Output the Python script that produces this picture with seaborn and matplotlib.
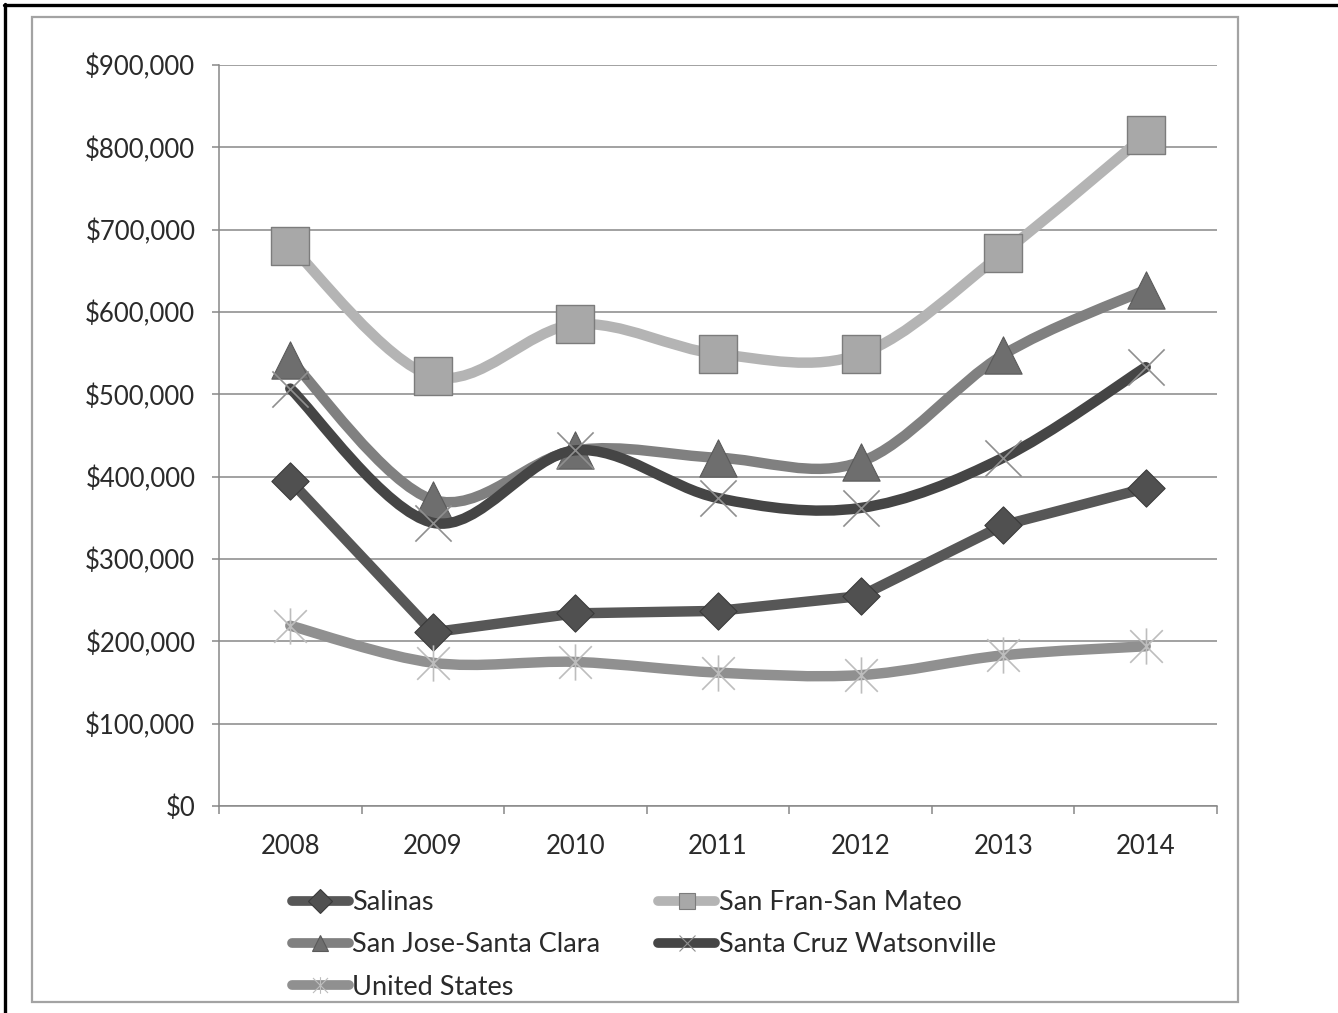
import numpy as np
import matplotlib
matplotlib.use("Agg")
import matplotlib.pyplot as plt
from matplotlib.path import Path
from matplotlib.patches import PathPatch, Rectangle
from matplotlib.lines import Line2D
from matplotlib.ticker import FuncFormatter, FixedLocator
import seaborn as sns
import pandas as pd

# Median home prices by area
years = ["2008", "2009", "2010", "2011", "2012", "2013", "2014"]
salinas = [395000, 211000, 234000, 237000, 255000, 341000, 386000]
san_fran = [680000, 522000, 585000, 549000, 549000, 672000, 815000]
san_jose = [542000, 372000, 432000, 423000, 418000, 548000, 627000]
santa_cruz = [507000, 344000, 432000, 374000, 362000, 423000, 533000]
united_states = [219000, 174000, 175000, 162000, 159000, 183000, 194000]

series_names = ["Salinas", "San Fran-San Mateo", "San Jose-Santa Clara",
                "Santa Cruz Watsonville", "United States"]
y_ticks = [0, 100000, 200000, 300000, 400000, 500000, 600000, 700000, 800000, 900000]

sns.set_theme(style="white")
plt.rcParams["font.family"] = ["Lato", "DejaVu Sans"]

W, H = 1338, 1013
fig = plt.figure(figsize=(W / 100, H / 100), dpi=100)
ax = fig.add_axes([219 / W, 1 - 806 / H, (1217 - 219) / W, (806 - 65) / H])

x = np.arange(len(years))
grid_col = "#888888"
text_col = "#2a2a2a"


def smooth_path(xs, ys):
    """Cubic Bezier path through the points (Catmull-Rom style smoothing)."""
    pts = np.column_stack([xs, ys]).astype(float)
    n = len(pts)
    verts = [pts[0]]
    codes = [Path.MOVETO]
    for i in range(n - 1):
        p0 = pts[i - 1] if i > 0 else pts[i]
        p1 = pts[i]
        p2 = pts[i + 1]
        p3 = pts[i + 2] if i + 2 < n else pts[i + 1]
        c1 = p1 + (p2 - p0) / 6.0
        c2 = p2 - (p3 - p1) / 6.0
        verts += [c1, c2, p2]
        codes += [Path.CURVE4] * 3
    return Path(verts, codes)


asterisk = Path([(0, -1), (0, 1), (-0.9, -0.9), (0.9, 0.9), (-0.9, 0.9), (0.9, -0.9)],
                [Path.MOVETO, Path.LINETO, Path.MOVETO, Path.LINETO, Path.MOVETO, Path.LINETO])

styles = {
    "Salinas": dict(values=salinas, line="#575757", smooth=False,
                    marker="D", size=360, face="#505050", edge="#3a3a3a", lw=0.8),
    "San Fran-San Mateo": dict(values=san_fran, line="#b4b4b4", smooth=True,
                               marker="s", size=780, face="#a8a8a8", edge="#7c7c7c", lw=1.0),
    "San Jose-Santa Clara": dict(values=san_jose, line="#808080", smooth=True,
                                 marker="^", size=720, face="#6e6e6e", edge="#5a5a5a", lw=0.8),
    "Santa Cruz Watsonville": dict(values=santa_cruz, line="#454545", smooth=True,
                                   marker="x", size=680, face="#8f8f8f", edge="#8f8f8f", lw=1.2),
    "United States": dict(values=united_states, line="#909090", smooth=True,
                          marker=asterisk, size=680, face="#bdbdbd", edge="#bdbdbd", lw=1.2),
}

df = pd.DataFrame({"x": np.tile(x, len(series_names)),
                   "value": salinas + san_fran + san_jose + santa_cruz + united_states,
                   "series": np.repeat(series_names, len(years))})

z = 3
for name in series_names:
    st = styles[name]
    sub = df[df["series"] == name]
    if st["smooth"]:
        patch = PathPatch(smooth_path(sub["x"], sub["value"]), facecolor="none",
                          edgecolor=st["line"], lw=7.5, capstyle="round",
                          joinstyle="round", zorder=z)
        ax.add_patch(patch)
    else:
        sns.lineplot(data=sub, x="x", y="value", color=st["line"], lw=7.5,
                     ax=ax, zorder=z, solid_capstyle="round", legend=False)
    if st["marker"] in ("x",) or st["marker"] is asterisk:
        ax.scatter(sub["x"], sub["value"], marker=st["marker"], s=st["size"],
                   color=st["face"], linewidths=st["lw"], zorder=z + 0.5)
    else:
        sns.scatterplot(data=sub, x="x", y="value", marker=st["marker"], s=st["size"],
                        color=st["face"], edgecolor=st["edge"], linewidth=st["lw"],
                        ax=ax, zorder=z + 0.5, legend=False)
    z += 1

ax.set_xlim(-0.5, len(years) - 0.5)
ax.set_ylim(0, 900000)
ax.set_xticks(x)
ax.set_xticklabels(years)
ax.xaxis.set_minor_locator(FixedLocator(np.arange(-0.5, len(years), 1.0)))
ax.set_yticks(y_ticks)
ax.yaxis.set_major_formatter(FuncFormatter(lambda v, p: f"${v:,.0f}"))
ax.set_xlabel("")
ax.set_ylabel("")
ax.grid(axis="y", color=grid_col, lw=1.1, zorder=0)
ax.set_axisbelow(True)
for s in ("top", "right"):
    ax.spines[s].set_visible(False)
for s in ("left", "bottom"):
    ax.spines[s].set_color(grid_col)
    ax.spines[s].set_linewidth(1.1)
ax.tick_params(axis="y", which="major", left=True, length=5, width=1.1, color=grid_col,
               labelsize=18.5, labelcolor=text_col, pad=12)
ax.tick_params(axis="x", which="major", bottom=False, length=0, labelsize=18.5,
               labelcolor=text_col, pad=20)
ax.tick_params(axis="x", which="minor", bottom=True, length=6, width=1.1, color=grid_col)

# Legend
handles = []
for name in series_names:
    st = styles[name]
    ms = 12 if st["marker"] != "s" else 11
    h = Line2D([0], [0], color=st["line"], lw=7, solid_capstyle="round",
               marker=st["marker"], markersize=ms, markerfacecolor=st["face"],
               markeredgecolor=st["edge"], markeredgewidth=0.8)
    handles.append(h)
order = [0, 2, 4, 1, 3]
fig.legend([handles[i] for i in order], [series_names[i] for i in order],
           loc="upper left", bbox_to_anchor=(292 / W, 1 - 890 / H), ncol=2,
           frameon=False, fontsize=19.5, handlelength=2.1, handletextpad=0.12,
           labelspacing=0.64, columnspacing=2.15, borderpad=0, borderaxespad=0,
           labelcolor=text_col)

# Chart area border and outer frame
fig.add_artist(Rectangle((32 / W, 1 - 1002 / H), (1238 - 32) / W, (1002 - 17) / H,
                         transform=fig.transFigure, fill=False, edgecolor="#a3a3a3",
                         lw=1.6))
fig.add_artist(Line2D([4 / W, 1], [1 - 5 / H, 1 - 5 / H], transform=fig.transFigure,
                      color="black", lw=2.4))
fig.add_artist(Line2D([5 / W, 5 / W], [0, 1 - 4 / H], transform=fig.transFigure,
                      color="black", lw=2.4))

fig.savefig("out.png", dpi=100, facecolor="white")
